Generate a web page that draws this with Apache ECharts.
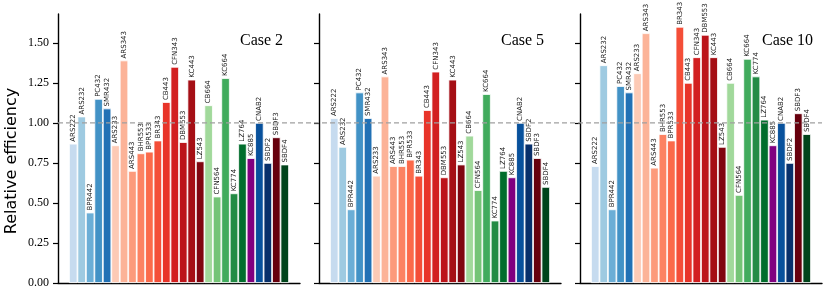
<!DOCTYPE html>
<html><head><meta charset="utf-8">
<script src="https://cdn.jsdelivr.net/npm/echarts@6/dist/echarts.min.js"></script>
<style>html,body{margin:0;padding:0;background:#fff}#c{width:830px;height:297px}</style>
</head><body><div id="c"></div>
<script>
const categories = ['ARS222','ARS232','BPR442','PC432','SMR432','ARS233','ARS343','ARS443','BHR553','BPR533','BR343','CB443','CFN343','DBM553','KC443','LZ543','CB664','CFN564','KC664','KC774','LZ764','KC885','CNAB2','SBDF2','SBDF3','SBDF4'];
const case2 = [0.87,1.04,0.44,1.15,1.09,0.86,1.39,0.70,0.81,0.82,0.89,1.13,1.35,0.88,1.27,0.76,1.11,0.54,1.28,0.56,0.87,0.78,1.00,0.75,0.91,0.74];
const case5 = [1.03,0.85,0.46,1.19,1.03,0.67,1.29,0.73,0.73,0.77,0.67,1.08,1.32,0.66,1.27,0.74,0.92,0.58,1.18,0.39,0.70,0.66,1.00,0.87,0.78,0.60];
const case10 = [0.73,1.36,0.46,1.23,1.19,1.31,1.56,0.72,0.93,0.89,1.60,1.25,1.41,1.55,1.41,0.85,1.25,0.55,1.40,1.29,1.02,0.86,1.00,0.75,1.06,0.93];
const panelTitles = ['Case 2','Case 5','Case 10'];
const yTicks = [0,0.25,0.5,0.75,1.0,1.25,1.5];
const refLevel = 1.0;
const yMax = 1.68;

const colors = ['#c6dbef','#9ecae1','#6baed6','#4292c6','#2171b5',
 '#fdcab5','#fcb398','#fc9a7b','#fc8262','#fb6a4a','#f44e38','#e83429','#d21f20','#bc141a','#a50f15','#800610',
 '#a1d99b','#74c476','#41ab5d','#238b45','#006d2c',
 '#800080','#08519c','#08306b','#67000d','#00441b'];

const panels = [case2, case5, case10];
const lefts = [58, 319, 580];
const pw = 242, gTop = 14, ph = 269;
const xMin = -1.8, xMax = 26.8;
const barW = pw / (xMax - xMin);

const grid = [], xAxis = [], yAxis = [], series = [], title = [];
panels.forEach((vals, k) => {
  grid.push({left: lefts[k], top: gTop, width: pw, height: ph});
  xAxis.push({type:'value', gridIndex:k, min:xMin, max:xMax,
    axisLine:{show:true, onZero:false, lineStyle:{color:'#000', width:1.4}},
    axisTick:{show:false}, axisLabel:{show:false}, splitLine:{show:false}});
  yAxis.push({type:'value', gridIndex:k, min:0, max:yMax,
    axisLine:{show:true, onZero:false, lineStyle:{color:'#000', width:1.4}},
    axisTick:{show:true, length:5, customValues: yTicks, lineStyle:{color:'#000', width:1.2}},
    axisLabel:{show:k===0, customValues: yTicks, margin:9, formatter: v => v.toFixed(2),
      fontFamily:'Liberation Serif', fontSize:12, color:'#000'},
    splitLine:{show:false}});
  series.push({type:'bar', xAxisIndex:k, yAxisIndex:k, barWidth: barW,
    data: vals.map((v,i) => ({value:[i, v], itemStyle:{color: colors[i]}})),
    itemStyle:{borderColor:'#fff', borderWidth:0.8},
    label:{show:true, position:'top', rotate:90, align:'left', verticalAlign:'middle', distance:2,
      formatter: p => categories[p.dataIndex], fontFamily:'DejaVu Sans', fontSize:7, color:'#222'},
    animation:false});
  title.push({text: panelTitles[k], left: lefts[k] + 177, top: 28,
    textStyle:{fontFamily:'Liberation Serif', fontSize:16, fontWeight:'normal', color:'#000'}});
});
// full-width reference grid
grid.push({left: 58, top: gTop, width: 822 - 58, height: ph});
xAxis.push({type:'value', gridIndex:3, min:0, max:1, show:false});
yAxis.push({type:'value', gridIndex:3, min:0, max:yMax, show:false});
series.push({type:'line', xAxisIndex:3, yAxisIndex:3, z:10, symbol:'none', silent:true,
  data:[[0, refLevel],[1, refLevel]],
  lineStyle:{color:'#a0a0a0', width:1.3, type:[5,3]}, animation:false});

const chart = echarts.init(document.getElementById('c'), null, {renderer:'canvas'});
chart.setOption({
  animation:false,
  title, grid, xAxis, yAxis, series,
  graphic:[{type:'text', x:12, y:161, rotation:Math.PI/2,
    style:{text:'Relative efficiency', textAlign:'center', textVerticalAlign:'middle',
      fontFamily:'DejaVu Sans', fontSize:16, fill:'#000'}}]
});
</script></body></html>
